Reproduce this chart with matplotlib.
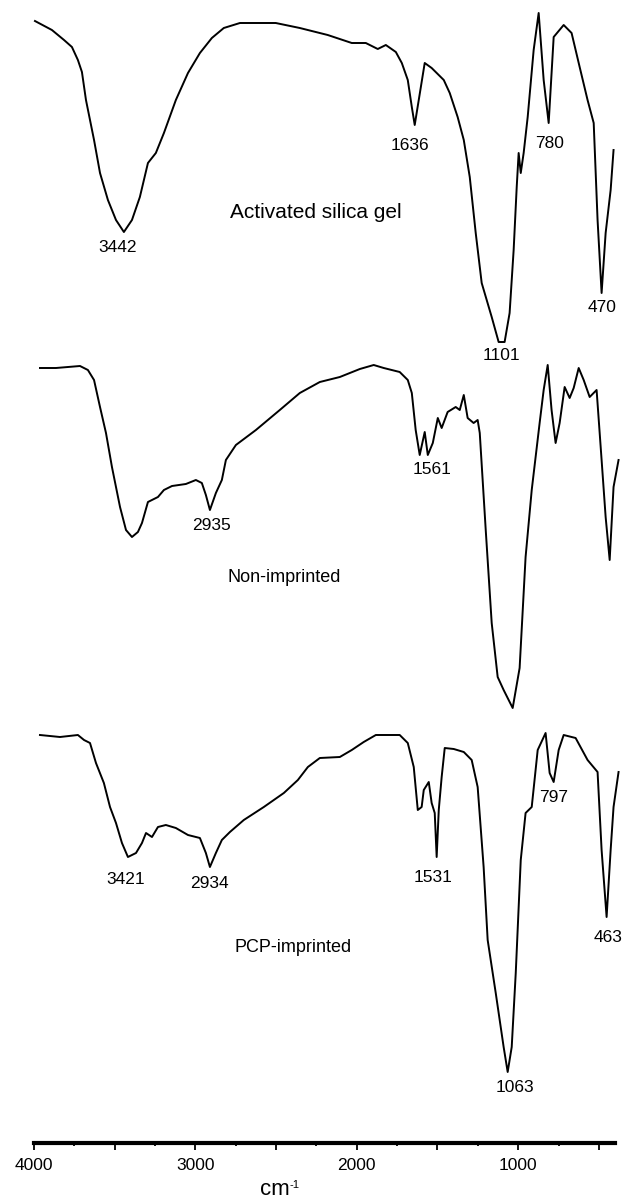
#!/usr/bin/env python3
"""Stacked FTIR spectra: activated silica gel, non-imprinted and PCP-imprinted."""
import matplotlib

matplotlib.use("Agg")
import matplotlib.pyplot as plt  # noqa: E402
from matplotlib.ticker import FuncFormatter, MultipleLocator  # noqa: E402

plt.rcParams["font.family"] = ["Liberation Sans", "DejaVu Sans"]

# --- data: wavenumber (cm-1) and transmittance (arb. units) ---
silica_wn = [3994, 3889, 3814, 3765, 3728, 3703, 3678, 3628, 3591, 3542, 3492, 3443,
             3393, 3344, 3294, 3245, 3195, 3121, 3046, 2972, 2898, 2824, 2724, 2502,
             2353, 2180, 2031, 1944, 1870, 1820, 1758, 1721, 1684, 1659, 1641, 1616,
             1579, 1536, 1461, 1424, 1375, 1337, 1300, 1263, 1226, 1164, 1121, 1084,
             1053, 1028, 1009, 997, 984, 966, 941, 904, 873, 842, 811, 780, 718, 669,
             619, 570, 532, 508, 483, 458, 427, 409]
silica_t = [324, 315, 305, 298, 285, 273, 245, 205, 172, 145, 125, 113,
            125, 148, 182, 192, 212, 245, 272, 292, 307, 317, 322, 322,
            317, 310, 302, 302, 296, 300, 293, 282, 265, 238, 220, 245,
            282, 277, 265, 252, 228, 205, 168, 112, 62, 28, 3, 3,
            32, 95, 158, 192, 172, 192, 228, 295, 332, 265, 222, 308, 320, 312,
            278, 245, 222, 125, 52, 112, 155, 195]

nonimp_wn = [3963, 3864, 3715, 3666, 3628, 3591, 3554, 3517, 3467, 3430, 3393, 3356,
             3331, 3294, 3232, 3195, 3145, 3059, 2997, 2960, 2935, 2910, 2873, 2836,
             2811, 2749, 2625, 2477, 2353, 2229, 2105, 1981, 1895, 1833, 1734, 1684,
             1659, 1635, 1610, 1579, 1560, 1529, 1498, 1474, 1437, 1387, 1362, 1337,
             1313, 1276, 1251, 1238, 1201, 1164, 1127, 1090, 1034, 991, 954, 916,
             867, 842, 817, 793, 768, 743, 712, 681, 656, 625, 594, 557, 514, 483,
             458, 433, 409, 378]
nonimp_t = [342, 342, 344, 340, 330, 303, 277, 243, 203, 180, 173, 178,
            187, 208, 213, 220, 224, 226, 230, 227, 215, 200, 217, 230,
            250, 265, 280, 300, 317, 328, 333, 341, 345, 342, 338, 330,
            317, 280, 255, 278, 255, 267, 292, 282, 298, 303, 300, 315,
            292, 287, 290, 277, 180, 87, 33, 20, 2, 42, 153, 220,
            287, 320, 345, 300, 267, 287, 323, 312, 322, 342, 330, 313, 320, 250,
            193, 150, 223, 250]

pcp_wn = [3963, 3839, 3728, 3690, 3653, 3616, 3567, 3529, 3492, 3455, 3418, 3368,
          3331, 3306, 3269, 3232, 3183, 3121, 3046, 2972, 2935, 2910, 2873, 2836,
          2786, 2700, 2576, 2452, 2365, 2303, 2229, 2105, 2031, 1957, 1882, 1734,
          1684, 1647, 1622, 1598, 1585, 1554, 1536, 1517, 1505, 1492, 1474, 1455,
          1399, 1337, 1288, 1251, 1214, 1189, 1139, 1090, 1065, 1040, 1015, 984,
          954, 916, 879, 830, 805, 780, 749, 718, 644, 570, 508, 483, 452, 427,
          409, 378]
pcp_t = [340, 338, 340, 335, 332, 312, 292, 268, 252, 232, 218, 222,
         232, 242, 238, 248, 250, 247, 240, 237, 222, 208, 222, 235,
         243, 255, 268, 282, 295, 308, 317, 318, 325, 333, 340, 340,
         332, 308, 265, 268, 285, 293, 272, 262, 218, 265, 298, 327,
         326, 323, 315, 288, 208, 135, 82, 28, 3, 28, 102, 215,
         262, 268, 325, 342, 302, 293, 325, 340, 337, 315, 303, 225, 158, 225,
         268, 303]

SPECTRA = [("Activated silica gel", silica_wn, silica_t),
           ("Non-imprinted", nonimp_wn, nonimp_t),
           ("PCP-imprinted", pcp_wn, pcp_t)]

# vertical stacking offsets (layout, in axis units)
OFFSETS = [798, 433, 68]

# annotations: text, x (cm-1), y (axis units), font size
LABELS = [
    ("Activated silica gel", 2254, 931, 15),
    ("3442", 3480, 895, 12.5), ("1636", 1672, 998, 12.5), ("780", 805, 999, 12.5),
    ("470", 483, 836, 12.5), ("1101", 1102, 787, 12.5),
    ("Non-imprinted", 2452, 565, 13),
    ("2935", 2898, 618, 12.5), ("1561", 1536, 673, 12.5),
    ("PCP-imprinted", 2396, 196, 13),
    ("3421", 3430, 263, 12.5), ("2934", 2910, 260, 12.5), ("1531", 1529, 266, 12.5),
    ("797", 780, 345, 12.5), ("463", 446, 206, 12.5), ("1063", 1022, 56, 12.5),
]


def main():
    fig = plt.figure(figsize=(6.23, 11.98), dpi=100)
    ax = fig.add_axes([34 / 623, 55 / 1198, 581 / 623, 1143 / 1198])

    for (name, wn, t), off in zip(SPECTRA, OFFSETS):
        ax.plot(wn, [v + off for v in t], color="black", lw=1.4, clip_on=False)

    for text, x, y, fs in LABELS:
        ax.text(x, y, text, fontsize=fs, ha="center", va="center", clip_on=False)

    ax.set_xlim(4000, 400)
    ax.set_ylim(0, 1143)
    for side in ("left", "right", "top"):
        ax.spines[side].set_visible(False)
    ax.spines["bottom"].set_linewidth(3)
    ax.set_yticks([])
    ax.xaxis.set_major_locator(MultipleLocator(500))
    ax.xaxis.set_minor_locator(MultipleLocator(250))
    ax.xaxis.set_major_formatter(FuncFormatter(lambda v, p: f"{v:.0f}" if v % 1000 == 0 else ""))
    ax.tick_params(axis="x", which="major", direction="out", length=5, width=1.3,
                   labelsize=12.5, pad=6)
    ax.tick_params(axis="x", which="minor", direction="out", length=2.5, width=1.3)
    ax.patch.set_alpha(0)

    # axis unit: "cm" with a small raised "-1"
    unit = fig.text(260 / 623, 3 / 1198, "cm", fontsize=16, ha="left", va="baseline")
    ax.annotate("-1", xy=(1.0, 0.72), xycoords=unit, fontsize=8, ha="left", va="center")

    fig.savefig("out.png", dpi=100)
    plt.close(fig)


if __name__ == "__main__":
    main()
